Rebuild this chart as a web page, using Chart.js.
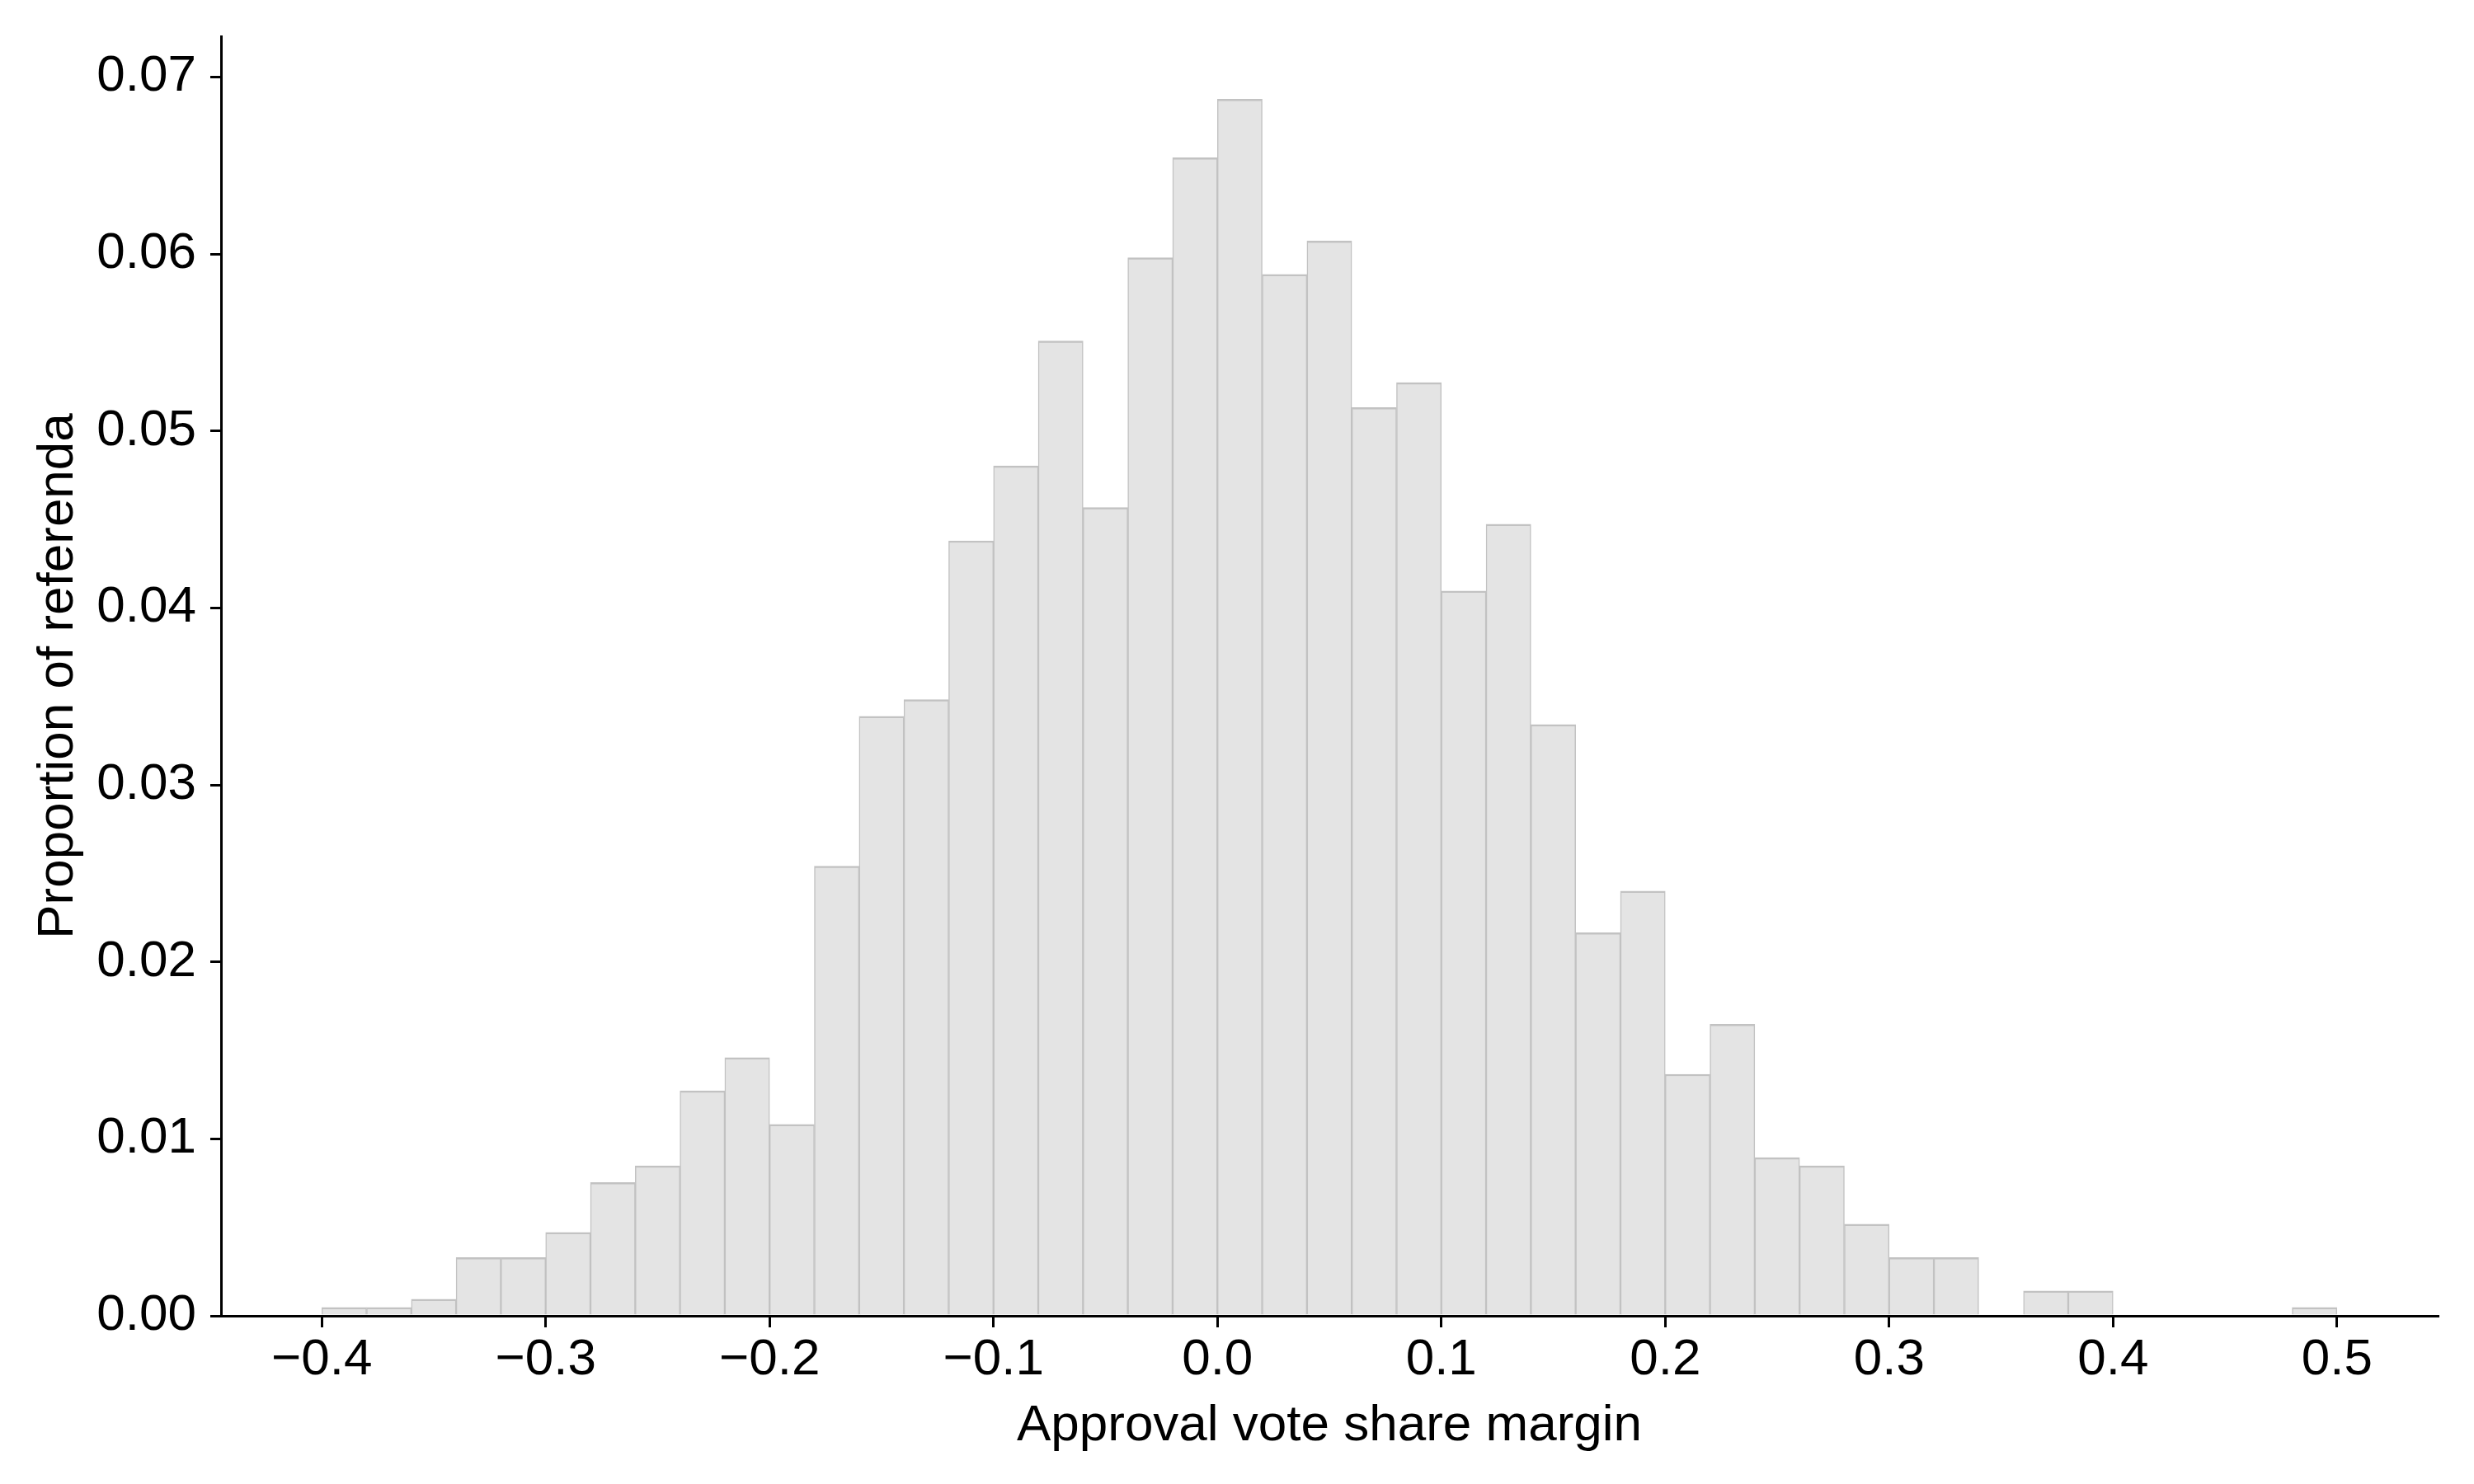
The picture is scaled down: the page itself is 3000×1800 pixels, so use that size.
<!DOCTYPE html>
<html>
<head>
<meta charset="utf-8">
<script src="https://cdn.jsdelivr.net/npm/chart.js@4.4.1/dist/chart.umd.min.js"></script>
<style>
  html, body { margin: 0; padding: 0; background: #ffffff; }
  #wrap { width: 3000px; height: 1800px; position: relative; }
</style>
</head>
<body>
<div id="wrap"><canvas id="c" width="3000" height="1800"></canvas></div>
<script>
// Histogram bins (left edges), bin width 0.02
const binLeft = [-0.40, -0.38, -0.36, -0.34, -0.32, -0.30, -0.28, -0.26, -0.24, -0.22,
                 -0.20, -0.18, -0.16, -0.14, -0.12, -0.10, -0.08, -0.06, -0.04, -0.02,
                  0.00,  0.02,  0.04,  0.06,  0.08,  0.10,  0.12,  0.14,  0.16,  0.18,
                  0.20,  0.22,  0.24,  0.26,  0.28,  0.30,  0.32,  0.34,  0.36,  0.38,
                  0.40,  0.42,  0.44,  0.46,  0.48];
const binWidth = 0.02;
const proportions = [0.00047, 0.00047, 0.00094, 0.00329, 0.00329, 0.00471, 0.00753, 0.00847, 0.01271, 0.01459,
                     0.01082, 0.02541, 0.03388, 0.03482, 0.04379, 0.04802, 0.05508, 0.04567, 0.05979, 0.06544,
                     0.06874, 0.05885, 0.06073, 0.05132, 0.05273, 0.04096, 0.04473, 0.03341, 0.02165, 0.02400,
                     0.01365, 0.01647, 0.00894, 0.00847, 0.00518, 0.00329, 0.00329, 0.00000, 0.00141, 0.00141,
                     0.00000, 0.00000, 0.00000, 0.00000, 0.00047];
const xTicks = [-0.4, -0.3, -0.2, -0.1, 0.0, 0.1, 0.2, 0.3, 0.4, 0.5];
const yTicks = [0.00, 0.01, 0.02, 0.03, 0.04, 0.05, 0.06, 0.07];
const xLabel = 'Approval vote share margin';
const yLabel = 'Proportion of referenda';

const points = binLeft.map((l, i) => ({ x: l + binWidth / 2, y: proportions[i] }));
const FONT = 'Liberation Sans, Arial, Helvetica, sans-serif';

new Chart(document.getElementById('c'), {
  type: 'bar',
  data: {
    datasets: [{
      data: points,
      backgroundColor: '#e4e4e4',
      borderColor: '#c2c2c2',
      borderWidth: { left: 1.5, right: 1.5, top: 2.5, bottom: 0 },
      barPercentage: 1.0,
      categoryPercentage: 1.0,
      borderSkipped: 'bottom'
    }]
  },
  options: {
    responsive: false,
    animation: false,
    devicePixelRatio: 1,
    layout: { padding: { left: 0, right: 44, top: 44, bottom: 0 } },
    plugins: { legend: { display: false }, tooltip: { enabled: false } },
    scales: {
      x: {
        type: 'linear',
        min: -0.445,
        max: 0.545,
        offset: false,
        afterFit: s => { s.height = 204; s.paddingLeft = 0; s.paddingRight = 0; },
        afterBuildTicks: s => { s.ticks = xTicks.map(v => ({ value: v })); },
        grid: { display: true, offset: false, drawOnChartArea: false, drawTicks: true, tickLength: 14, color: '#000', lineWidth: 3 },
        border: { display: true, color: '#000', width: 3, z: 1 },
        ticks: {
          padding: 3,
          color: '#000',
          font: { family: FONT, size: 62 },
          maxRotation: 0,
          autoSkip: false,
          callback: v => v.toFixed(1).replace('-', '\u2212')
        },
        title: { display: true, text: xLabel, color: '#000', font: { family: FONT, size: 62 }, padding: { top: 0, bottom: 33 } }
      },
      y: {
        min: 0,
        max: 0.0723,
        afterFit: s => { s.width = 268; s.paddingTop = 0; s.paddingBottom = 0; },
        afterBuildTicks: s => { s.ticks = yTicks.map(v => ({ value: v })); },
        grid: { display: true, offset: false, drawOnChartArea: false, drawTicks: true, tickLength: 13, color: '#000', lineWidth: 3 },
        border: { display: true, color: '#000', width: 3, z: 1 },
        ticks: {
          padding: 17,
          color: '#000',
          font: { family: FONT, size: 62 },
          callback: v => v.toFixed(2)
        },
        title: { display: true, text: yLabel, color: '#000', font: { family: FONT, size: 62 }, padding: { top: 34, bottom: 0 } }
      }
    }
  }
});
</script>
</body>
</html>
